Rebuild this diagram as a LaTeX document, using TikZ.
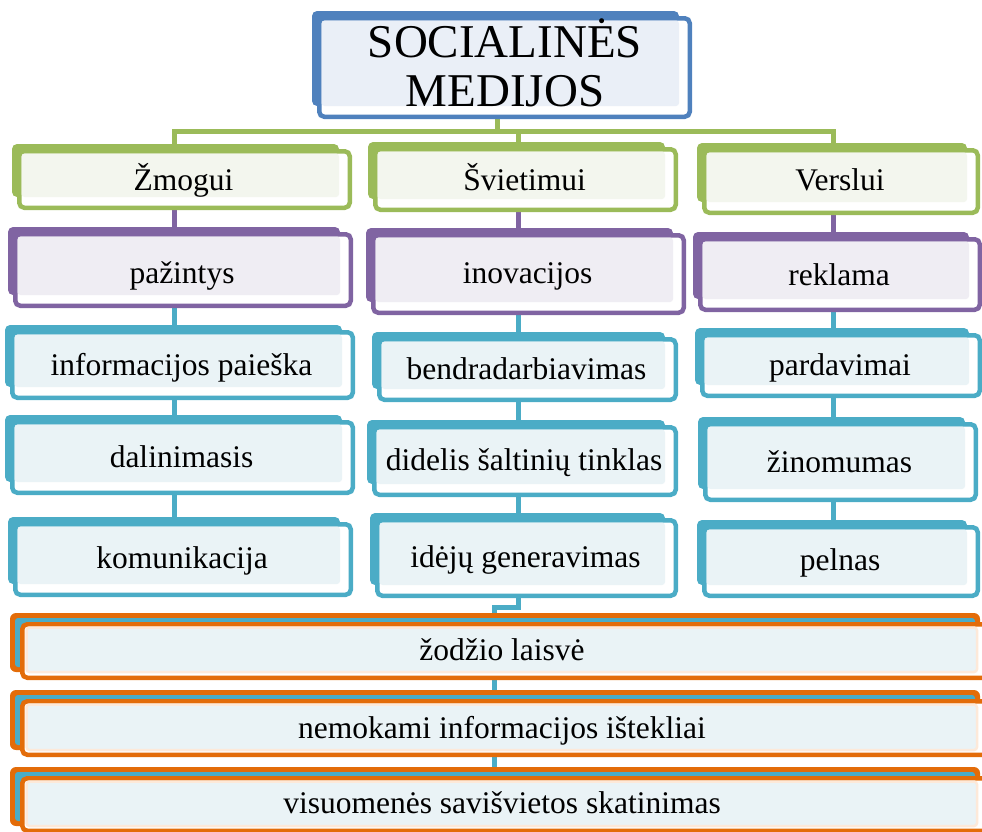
\documentclass[tikz,border=0pt]{standalone}
\usepackage{fontspec}
\setmainfont{Liberation Serif}
\pgfdeclarelayer{bg}
\pgfsetlayers{bg,main}
\definecolor{tblue}{HTML}{4F81BD}
\definecolor{ttint}{HTML}{EAEFF7}
\definecolor{cgreen}{HTML}{9BBB59}
\definecolor{gtint}{HTML}{F3F6EE}
\definecolor{cpurple}{HTML}{8064A2}
\definecolor{ptint}{HTML}{EFEDF3}
\definecolor{cblue}{HTML}{4BACC6}
\definecolor{btint}{HTML}{EAF3F6}
\definecolor{corange}{HTML}{E36C09}
\definecolor{peach}{HTML}{FDE9D9}

% #1 name, #2 colour, #3 tint, #4-#7 front box (x1,y1,x2,y2), #8 text, #9 baseline
\newcommand\mybox[9]{%
  \pgfmathsetmacro\myBXa{#4-5}\pgfmathsetmacro\myBYa{#5-5}%
  \pgfmathsetmacro\myBXb{#6-13}\pgfmathsetmacro\myBYb{#7-13}%
  \pgfmathsetmacro\myNX{#4+2.25}\pgfmathsetmacro\myNY{#5+2.25}%
  \pgfmathsetmacro\myNW{#6-#4-4.5}\pgfmathsetmacro\myNH{#7-#5-4.5}%
  \pgfmathsetmacro\myTX{#4+4.5}\pgfmathsetmacro\myTY{#5+4.5}%
  \pgfmathsetmacro\myCX{(#4+#6)/2-1}%
  \fill[#2, rounded corners=5pt] (\myBXa,\myBYa) rectangle (\myBXb,\myBYb);
  \node[frontbox, draw=#2, minimum width=\myNW pt, minimum height=\myNH pt, anchor=north west] (#1) at (\myNX,\myNY) {};
  \fill[#3, rounded corners=3pt] (\myTX,\myTY) rectangle (\myBXb,\myBYb);
  \node[lbl, anchor=base] (#1-t) at (\myCX,#9) {#8};
}
% #1 name, #2 back top, #3 back bottom, #4 front top, #5 front bottom, #6 text, #7 baseline
\newcommand\obox[7]{%
  \pgfmathsetmacro\myNY{#4+2.25}\pgfmathsetmacro\myNH{#5-#4-4.5}%
  \pgfmathsetmacro\myBi{#2+5}\pgfmathsetmacro\myBj{#3-5}%
  \pgfmathsetmacro\myTY{#4+5.5}%
  \fill[corange, rounded corners=6pt] (10,#2) rectangle (980,#3);
  \fill[cblue, rounded corners=3pt] (15,\myBi) rectangle (975,\myBj);
  \node[frontbox, draw=corange, minimum width=970.5pt, minimum height=\myNH pt, anchor=north west] (#1) at (22.25,\myNY) {};
  \fill[btint, draw=peach, line width=2.5pt, rounded corners=3pt] (26.5,\myTY) rectangle (977,#3);
  \node[lbl, anchor=base] (#1-t) at (502,#7) {#6};
}

\begin{document}
\begin{tikzpicture}[x=1pt, y=-1pt,
  frontbox/.style={rectangle, fill=white, line width=4.5pt, rounded corners=5pt, inner sep=0pt, outer sep=0pt},
  lbl/.style={inner sep=0pt, font=\fontsize{31.5}{36}\selectfont},
  conn/.style={line width=5pt}]
\useasboundingbox (0,0) rectangle (982,831);
\clip (0,0) rectangle (982,831);

\coordinate (c1) at (174,0);
\coordinate (c2) at (518,0);
\coordinate (c3) at (833,0);
\coordinate (bus) at (497,131);
\coordinate (j) at (494,607);

% title
\mybox{root}{tblue}{ttint}{317}{16}{692}{119}{}{60}
\node[align=center, inner sep=0pt, font=\fontsize{47}{49}\selectfont, anchor=center] (title) at (505,63) {SOCIALINĖS\\MEDIJOS};

% column 1
\mybox{zm}{cgreen}{gtint}{17}{149}{352}{210}{Žmogui}{190}
\mybox{pz}{cpurple}{ptint}{13}{232}{353}{308}{pažintys}{283}
\mybox{ip}{cblue}{btint}{10}{330}{355}{400}{informacijos paieška}{375}
\mybox{dl}{cblue}{btint}{10}{420}{355}{495}{dalinimasis}{467}
\mybox{km}{cblue}{btint}{13}{522}{353}{597}{komunikacija}{568}
% column 2
\mybox{sv}{cgreen}{gtint}{373}{147}{678}{212}{Švietimui}{190}
\mybox{in}{cpurple}{ptint}{371}{233}{686}{315}{inovacijos}{283}
\mybox{bd}{cblue}{btint}{377}{337}{678}{402}{bendradarbiavimas}{379}
\mybox{dt}{cblue}{btint}{372}{425}{678}{497}{didelis šaltinių tinklas}{470}
\mybox{ig}{cblue}{btint}{375}{518}{678}{598}{idėjų generavimas}{567}
% column 3
\mybox{vr}{cgreen}{gtint}{702}{148}{980}{215}{Verslui}{190}
\mybox{rk}{cpurple}{ptint}{698}{237}{982}{312}{reklama}{285}
\mybox{pd}{cblue}{btint}{700}{333}{982}{398}{pardavimai}{375}
\mybox{zn}{cblue}{btint}{703}{422}{978}{502}{žinomumas}{472}
\mybox{pl}{cblue}{btint}{702}{525}{980}{598}{pelnas}{570}
% bottom
\obox{zl}{613}{672}{622}{680}{žodžio laisvė}{660}
\obox{nm}{690}{750}{699}{757}{nemokami informacijos ištekliai}{738}
\obox{vs}{767}{826}{776}{833}{visuomenės savišvietos skatinimas}{813}

\begin{pgfonlayer}{bg}
  \draw[conn, cgreen] (root.center -| bus) -- (bus) -| (zm.center -| c1);
  \draw[conn, cgreen] (bus) -| (sv.center -| c2);
  \draw[conn, cgreen] (bus) -| (vr.center -| c3);
  \draw[conn, cpurple] (zm.center -| c1) -- (pz.center -| c1);
  \draw[conn, cblue] (pz.center -| c1) -- (ip.center -| c1);
  \draw[conn, cblue] (ip.center -| c1) -- (dl.center -| c1);
  \draw[conn, cblue] (dl.center -| c1) -- (km.center -| c1);
  \draw[conn, cpurple] (sv.center -| c2) -- (in.center -| c2);
  \draw[conn, cblue] (in.center -| c2) -- (bd.center -| c2);
  \draw[conn, cblue] (bd.center -| c2) -- (dt.center -| c2);
  \draw[conn, cblue] (dt.center -| c2) -- (ig.center -| c2);
  \draw[conn, cblue] (ig.center -| c2) |- (j) -- (zl.center -| j);
  \draw[conn, cblue] (zl.center -| j) -- (nm.center -| j);
  \draw[conn, cblue] (nm.center -| j) -- (vs.center -| j);
  \draw[conn, cpurple] (vr.center -| c3) -- (rk.center -| c3);
  \draw[conn, cblue] (rk.center -| c3) -- (pd.center -| c3);
  \draw[conn, cblue] (pd.center -| c3) -- (zn.center -| c3);
  \draw[conn, cblue] (zn.center -| c3) -- (pl.center -| c3);
\end{pgfonlayer}
\end{tikzpicture}
\end{document}
